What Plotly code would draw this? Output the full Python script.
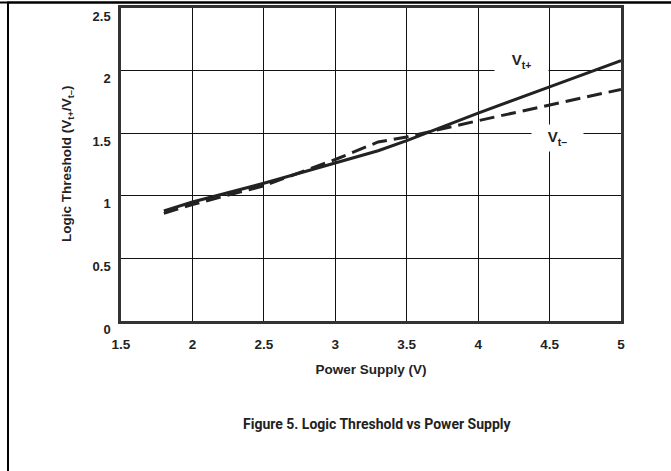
import plotly.graph_objects as go

# Data
supply_v = [1.8, 2.0, 2.5, 3.0, 3.3, 3.5, 4.0, 4.5, 5.0]
vt_plus = [0.88, 0.95, 1.10, 1.26, 1.36, 1.44, 1.66, 1.87, 2.08]
vt_minus = [0.86, 0.93, 1.08, 1.29, 1.43, 1.47, 1.60, 1.725, 1.85]

x_ticks = [1.5, 2, 2.5, 3, 3.5, 4, 4.5, 5]
x_tick_text = ["1.5", "2", "2.5", "3", "3.5", "4", "4.5", "5"]
y_ticks = [0, 0.5, 1, 1.5, 2, 2.5]
y_tick_text = ["0", "0.5", "1", "1.5", "2", "2.5"]

FONT = "Liberation Sans, Arial, sans-serif"
CAPFONT = "Roboto, Liberation Sans, sans-serif"
INK = "#222222"

fig = go.Figure()
fig.add_trace(go.Scatter(x=supply_v, y=vt_plus, mode="lines", name="Vt+",
                         line=dict(color=INK, width=3)))
fig.add_trace(go.Scatter(x=supply_v, y=vt_minus, mode="lines", name="Vt-",
                         line=dict(color=INK, width=3, dash="15px,7px")))

W, H = 671, 471
L, R, T, B = 121, 50, 8, 150
pw, ph = W - L - R, H - T - B

def px_x(p):
    return (p - L) / pw

def px_y(p):
    return (H - B - p) / ph

fig.update_layout(
    width=W, height=H,
    margin=dict(l=L, r=R, t=T, b=B, autoexpand=False),
    plot_bgcolor="white", paper_bgcolor="white",
    showlegend=False,
    font=dict(family=FONT, color=INK),
    xaxis=dict(range=[1.5, 5], tickvals=x_ticks,
               ticktext=["<b>%s</b>" % t for t in x_tick_text],
               showgrid=True, gridcolor="#111111", gridwidth=1,
               showline=True, mirror=True, linecolor="#333333", linewidth=2.5,
               zeroline=False, ticks="", ticklabelstandoff=9, automargin=False,
               tickfont=dict(family=FONT, size=13.5, color=INK),
               title=dict(text="<b>Power Supply (V)</b>", standoff=14,
                          font=dict(family=FONT, size=13.5, color=INK))),
    yaxis=dict(range=[0, 2.5], tickvals=y_ticks,
               ticktext=["<b>%s</b>" % t for t in y_tick_text],
               showgrid=True, gridcolor="#111111", gridwidth=1,
               showline=True, mirror=True, linecolor="#333333", linewidth=2.5,
               zeroline=False, ticks="", ticklabelshift=8, ticklabelstandoff=5,
               ticklabeloverflow="allow", automargin=False,
               tickfont=dict(family=FONT, size=13, color=INK)),
)

# y-axis title as rotated annotation
fig.add_annotation(xref="paper", yref="paper", x=px_x(67), y=px_y(164),
                   text="<b>Logic Threshold (V<sub>t+</sub>/V<sub>t–</sub>)</b>",
                   textangle=-90, showarrow=False, xanchor="center", yanchor="middle",
                   font=dict(family=FONT, size=13.5, color=INK))

# curve labels with white boxes that break the gridlines
fig.add_annotation(xref="paper", yref="paper", x=px_x(521.5), y=px_y(61),
                   text="<b>V<sub>t+</sub></b>", showarrow=False,
                   xanchor="center", yanchor="middle", bgcolor="white",
                   width=53, height=28, borderpad=0,
                   font=dict(family=FONT, size=15, color=INK))
fig.add_annotation(xref="paper", yref="paper", x=px_x(557.5), y=px_y(138),
                   text="<b>V<sub>t–</sub></b>", showarrow=False,
                   xanchor="center", yanchor="middle", bgcolor="white",
                   width=51, height=26, borderpad=0,
                   font=dict(family=FONT, size=15, color=INK))

# caption
fig.add_annotation(xref="paper", yref="paper", x=px_x(377), y=px_y(424),
                   text="<b>Figure 5. Logic Threshold vs Power Supply</b>",
                   showarrow=False, xanchor="center", yanchor="middle",
                   font=dict(family=CAPFONT, size=14, color=INK))

# outer frame (only top and left edges fall inside the page)
fig.add_shape(type="rect", xref="paper", yref="paper", layer="above",
              x0=px_x(8), x1=px_x(W + 20), y0=px_y(H + 20), y1=px_y(2.5),
              line=dict(color="black", width=2), fillcolor="rgba(0,0,0,0)")
fig.add_shape(type="line", xref="paper", yref="paper", layer="above",
              x0=px_x(0), x1=px_x(W), y0=px_y(2.5), y1=px_y(2.5),
              line=dict(color="black", width=2))

fig.write_html("out.html", config={"displayModeBar": False},
               post_script="document.body.style.margin='0';")
